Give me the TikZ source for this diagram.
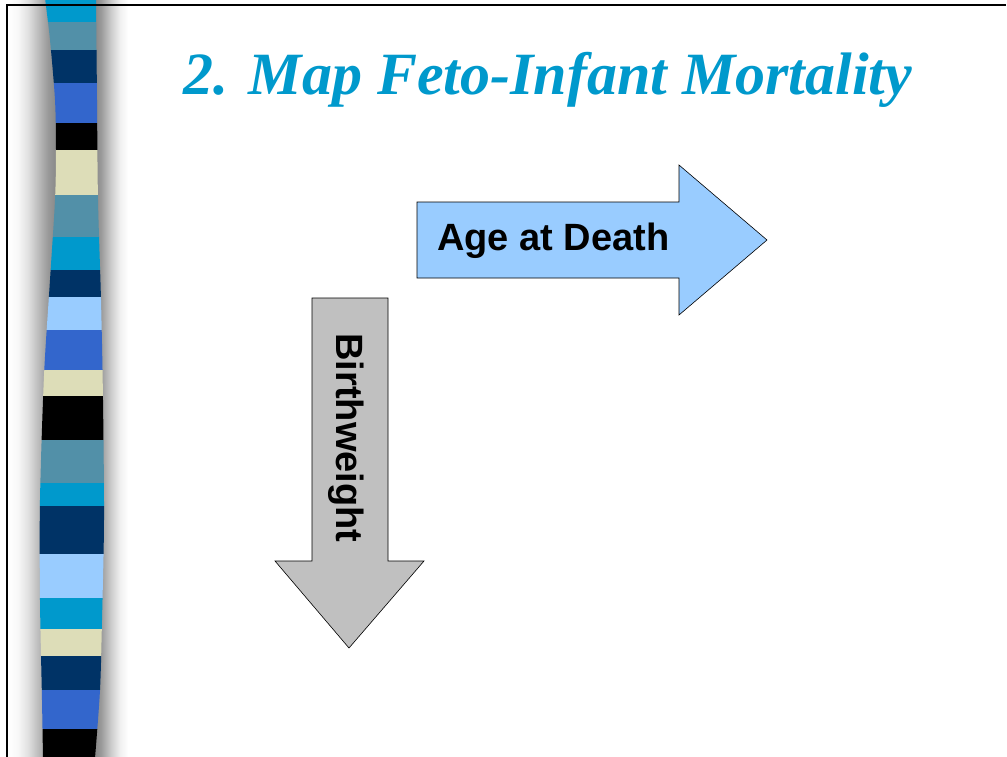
\documentclass[tikz,border=0pt]{standalone}
\usepackage{fontspec}
\setmainfont{Liberation Serif}
\newfontfamily\sansb{Liberation Sans}
\definecolor{titleblue}{HTML}{0099CC}
\definecolor{cyanb}{HTML}{0099CC}
\definecolor{steel}{HTML}{5290A8}
\definecolor{navy}{HTML}{003366}
\definecolor{midblue}{HTML}{3366CC}
\definecolor{beige}{HTML}{DDDDB8}
\definecolor{lightb}{HTML}{99CCFF}
\definecolor{arrowblue}{HTML}{99CCFF}
\definecolor{arrowgray}{HTML}{C0C0C0}
\pgfdeclarehorizontalshading{leftshade}{100bp}{color(0bp)=(white); color(25bp)=(white); color(35bp)=(black!3); color(45bp)=(black!12); color(55bp)=(black!26); color(65bp)=(black!40); color(75bp)=(black!48); color(100bp)=(black!48)}
\pgfdeclarehorizontalshading{rightshade}{100bp}{color(0bp)=(black!48); color(25bp)=(black!48); color(35bp)=(black!40); color(50bp)=(black!20); color(63bp)=(black!6); color(75bp)=(white); color(100bp)=(white)}
\tikzset{
  frameline/.style={line width=1.2pt, black},
  arrowshape/.style={draw=black, line width=0.6pt, line join=miter},
  labeltext/.style={font=\sansb\bfseries\fontsize{38}{40}\selectfont, inner sep=0pt},
}
\begin{document}
\begin{tikzpicture}[x=1pt,y=-1pt]
\useasboundingbox (0,0) rectangle (1007,756);
\fill[white] (0,0) rectangle (1007,756);
% shadows around strip
\shade[shading=leftshade] (8,0) rectangle (58,756);
\shade[shading=rightshade] (94,0) rectangle (128,756);
% strip
\begin{scope}
\clip plot[smooth] coordinates {(45,-2) (50,40) (55,100) (56,150) (55,200) (50,280) (44,376) (40,500) (40,600) (42,700) (43,758)}
  -- plot[smooth] coordinates {(95,758) (100,690) (102,620) (104,520) (103,400) (101,300) (98,200) (97,100) (96,-2)} -- cycle;
\fill[cyanb]   (30,-2)  rectangle (120,22);
\fill[steel]   (30,22)  rectangle (120,50);
\fill[navy]    (30,50)  rectangle (120,83);
\fill[midblue] (30,83)  rectangle (120,123);
\fill[black]   (30,123) rectangle (120,150);
\fill[beige]   (30,150) rectangle (120,195);
\fill[steel]   (30,195) rectangle (120,237);
\fill[cyanb]   (30,237) rectangle (120,270);
\fill[navy]    (30,270) rectangle (120,297);
\fill[lightb]  (30,297) rectangle (120,330);
\fill[midblue] (30,330) rectangle (120,370);
\fill[beige]   (30,370) rectangle (120,396);
\fill[black]   (30,396) rectangle (120,440);
\fill[steel]   (30,440) rectangle (120,483);
\fill[cyanb]   (30,483) rectangle (120,506);
\fill[navy]    (30,506) rectangle (120,554);
\fill[lightb]  (30,554) rectangle (120,598);
\fill[cyanb]   (30,598) rectangle (120,629);
\fill[beige]   (30,629) rectangle (120,656);
\fill[navy]    (30,656) rectangle (120,690);
\fill[midblue] (30,690) rectangle (120,729);
\fill[black]   (30,729) rectangle (120,758);
\end{scope}
% frame
\draw[frameline] (7,757) -- (7,5) -- (1006,5);
% title
\node[font=\bfseries\itshape\fontsize{60}{63}\selectfont, text=titleblue, anchor=base, inner sep=0pt] (title) at (548,94) {2. Map Feto-Infant Mortality};
% right arrow
\draw[arrowshape, fill=arrowblue] (417,202) -- (679,202) -- (679,165) -- (767,240) -- (679,315) -- (679,278) -- (417,278) -- cycle;
\node[labeltext, anchor=base west] (age) at (437,250) {Age at Death};
% down arrow
\draw[arrowshape, fill=arrowgray] (312,298) -- (388,298) -- (388,561) -- (424,561) -- (349,648) -- (275,561) -- (312,561) -- cycle;
\node[labeltext, rotate=-90, anchor=base] (bw) at (336,438) {Birthweight};
\end{tikzpicture}
\end{document}
